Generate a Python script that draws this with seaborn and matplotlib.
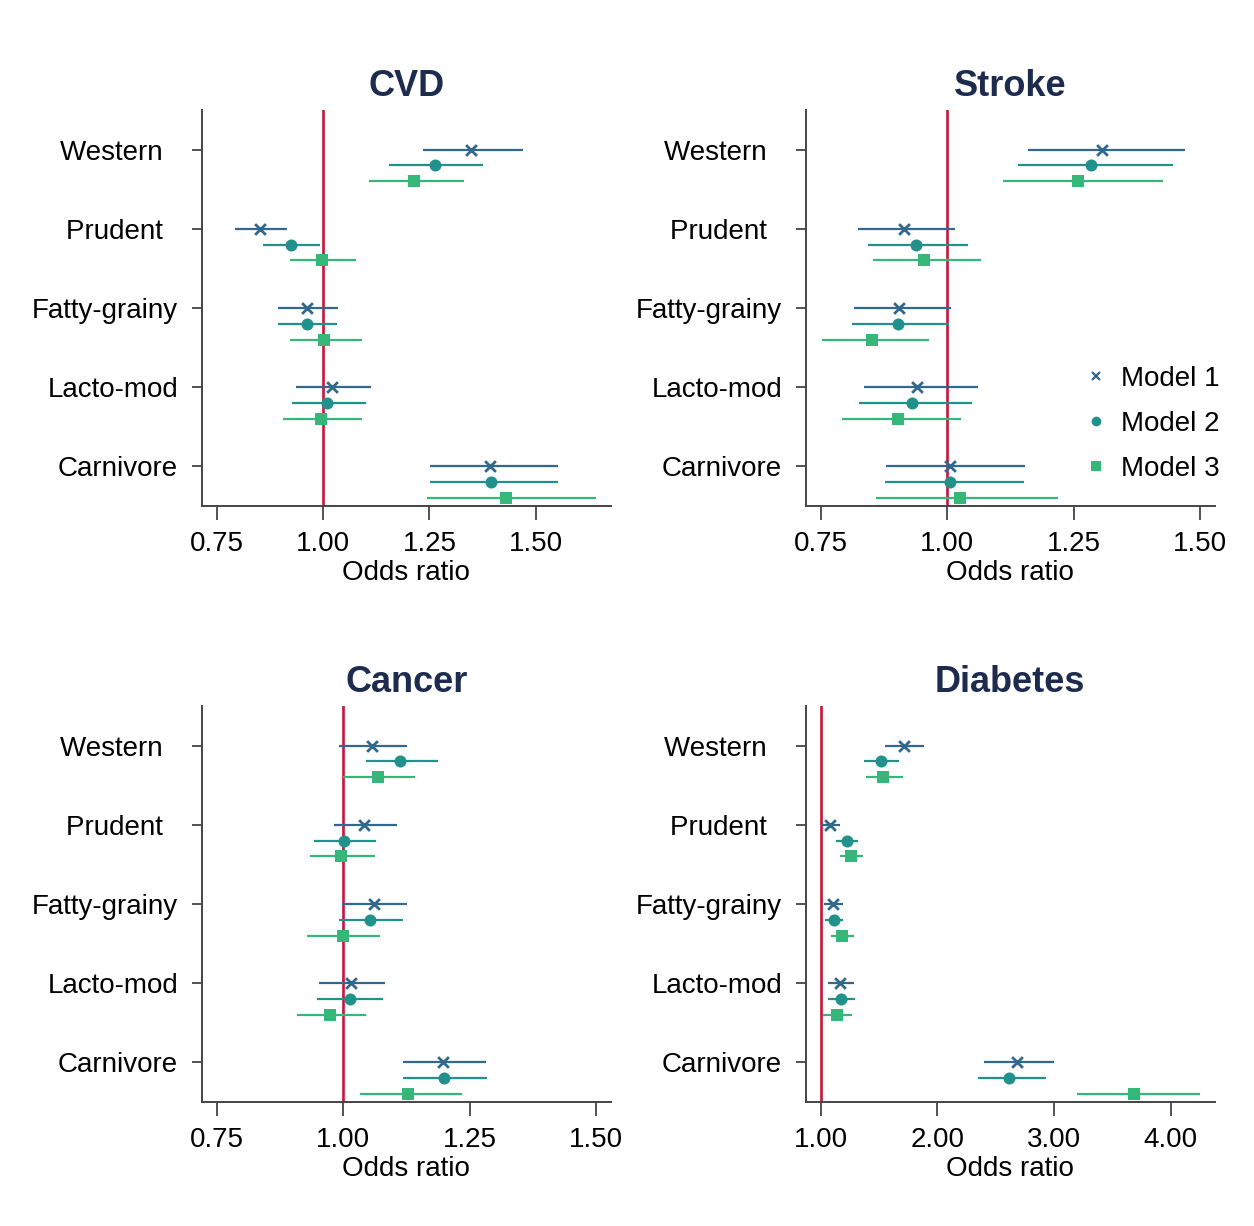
import numpy as np
import pandas as pd
import matplotlib
matplotlib.use("Agg")
import matplotlib.pyplot as plt
from matplotlib.lines import Line2D
from matplotlib.ticker import FormatStrFormatter
import seaborn as sns

# Dietary patterns (rows) and adjustment models (columns)
patterns = ["Western", "Prudent", "Fatty-grainy", "Lacto-mod", "Carnivore"]
pattern_labels = ["Western  ", "Prudent  ", "Fatty-grainy", "Lacto-mod", "Carnivore"]
models = ["Model 1", "Model 2", "Model 3"]

# Odds ratios with 95% CI, one list per pattern: [Model 1, Model 2, Model 3]
cvd_or = [[1.348, 1.262, 1.215], [0.852, 0.924, 0.998], [0.962, 0.962, 1.003],
          [1.020, 1.010, 0.995], [1.393, 1.394, 1.430]]
cvd_lo = [[1.236, 1.156, 1.109], [0.793, 0.859, 0.922], [0.895, 0.894, 0.923],
          [0.937, 0.926, 0.905], [1.251, 1.252, 1.245]]
cvd_hi = [[1.469, 1.376, 1.331], [0.915, 0.993, 1.077], [1.035, 1.034, 1.091],
          [1.113, 1.101, 1.092], [1.552, 1.553, 1.642]]

stroke_or = [[1.306, 1.284, 1.259], [0.914, 0.938, 0.954], [0.905, 0.903, 0.852],
             [0.940, 0.931, 0.902], [1.006, 1.005, 1.025]]
stroke_lo = [[1.160, 1.140, 1.110], [0.823, 0.844, 0.853], [0.815, 0.812, 0.753],
             [0.835, 0.826, 0.792], [0.878, 0.876, 0.860]]
stroke_hi = [[1.470, 1.447, 1.427], [1.015, 1.042, 1.067], [1.007, 1.003, 0.963],
             [1.060, 1.048, 1.028], [1.153, 1.151, 1.220]]

cancer_or = [[1.057, 1.113, 1.069], [1.042, 1.002, 0.996], [1.060, 1.053, 0.999],
             [1.015, 1.013, 0.974], [1.198, 1.200, 1.129]]
cancer_lo = [[0.992, 1.045, 1.000], [0.982, 0.943, 0.934], [0.997, 0.991, 0.929],
             [0.952, 0.949, 0.908], [1.118, 1.119, 1.034]]
cancer_hi = [[1.126, 1.187, 1.141], [1.106, 1.064, 1.062], [1.126, 1.118, 1.073],
             [1.082, 1.078, 1.045], [1.283, 1.285, 1.234]]

diabetes_or = [[1.711, 1.514, 1.537], [1.083, 1.226, 1.260], [1.106, 1.111, 1.186],
               [1.169, 1.171, 1.137], [2.680, 2.617, 3.683]]
diabetes_lo = [[1.551, 1.371, 1.386], [1.006, 1.134, 1.163], [1.031, 1.034, 1.089],
               [1.063, 1.066, 1.023], [2.400, 2.346, 3.194]]
diabetes_hi = [[1.883, 1.674, 1.703], [1.169, 1.317, 1.360], [1.189, 1.194, 1.289],
               [1.289, 1.291, 1.266], [2.997, 2.926, 4.246]]

outcomes = ["CVD", "Stroke", "Cancer", "Diabetes"]
estimates = {"CVD": (cvd_or, cvd_lo, cvd_hi),
             "Stroke": (stroke_or, stroke_lo, stroke_hi),
             "Cancer": (cancer_or, cancer_lo, cancer_hi),
             "Diabetes": (diabetes_or, diabetes_lo, diabetes_hi)}
x_ticks = {"CVD": [0.75, 1.00, 1.25, 1.50], "Stroke": [0.75, 1.00, 1.25, 1.50],
           "Cancer": [0.75, 1.00, 1.25, 1.50], "Diabetes": [1.0, 2.0, 3.0, 4.0]}
x_limits = {"CVD": (0.715, 1.676), "Stroke": (0.720, 1.529),
            "Cancer": (0.720, 1.529), "Diabetes": (0.871, 4.375)}

rows = []
for outcome in outcomes:
    o, lo, hi = estimates[outcome]
    for i, pat in enumerate(patterns):
        for j, m in enumerate(models):
            rows.append(dict(outcome=outcome, pattern=pat, model=m,
                             pos=i + 0.2 * j, OR=o[i][j], lo=lo[i][j], hi=hi[i][j]))
df = pd.DataFrame(rows)

sns.set_theme(style="ticks")
plt.rcParams["font.family"] = ["Liberation Sans", "DejaVu Sans"]
plt.rcParams["text.color"] = "black"

palette = {"Model 1": "#31688e", "Model 2": "#21918c", "Model 3": "#35b779"}
marker_map = {"Model 1": "x", "Model 2": "o", "Model 3": "s"}
marker_size = {"Model 1": 60, "Model 2": 75, "Model 3": 75}
ref_color = "#c8143c"
spine_color = "#444444"
title_color = "#1d2b4f"

fig = plt.figure(figsize=(12.54, 12.26), dpi=100)
W, H = 1254, 1226
boxes = {"CVD": (201.7, 110), "Stroke": (805.7, 110),
         "Cancer": (201.7, 706), "Diabetes": (805.7, 706)}
aw, ah = 409, 396

for outcome in outcomes:
    lx, ty = boxes[outcome]
    ax = fig.add_axes([lx / W, 1 - (ty + ah) / H, aw / W, ah / H])
    sub = df[df.outcome == outcome]
    ax.axvline(1.0, color=ref_color, lw=1.9, zorder=1)
    for m in models:
        d = sub[sub.model == m]
        ax.hlines(d["pos"], d["lo"], d["hi"], color=palette[m], lw=1.6, zorder=2)
        kws = dict(linewidth=2.0) if m == "Model 1" else dict(linewidth=0)
        sns.scatterplot(data=d, x="OR", y="pos", ax=ax, color=palette[m],
                        marker=marker_map[m], s=marker_size[m], zorder=3,
                        legend=False, **kws)
    ax.set_ylim(4.5, -0.5)
    ax.set_xlim(*x_limits[outcome])
    ax.set_yticks(range(len(patterns)))
    ax.set_yticklabels(pattern_labels)
    ax.set_xticks(x_ticks[outcome])
    ax.xaxis.set_major_formatter(FormatStrFormatter("%.2f"))
    ax.set_ylabel("")
    ax.set_xlabel("Odds ratio", fontsize=20, labelpad=2, color="black")
    ax.set_title(outcome, fontsize=26, fontweight="bold", color=title_color, pad=10)
    ax.tick_params(axis="y", length=7, width=1.3, pad=10, labelsize=20,
                   color=spine_color, labelcolor="black")
    ax.tick_params(axis="x", length=10, width=1.3, pad=8, labelsize=20,
                   color=spine_color, labelcolor="black")
    sns.despine(ax=ax)
    for s in ("left", "bottom"):
        ax.spines[s].set_color(spine_color)
        ax.spines[s].set_linewidth(1.4)

    if outcome == "Stroke":
        handles = [Line2D([], [], ls="none", marker="x", color=palette["Model 1"],
                          markersize=6, markeredgewidth=1.6),
                   Line2D([], [], ls="none", marker="o", color=palette["Model 2"],
                          markersize=7, markeredgewidth=0),
                   Line2D([], [], ls="none", marker="s", color=palette["Model 3"],
                          markersize=7, markeredgewidth=0)]
        ax.legend(handles, models, loc="center left", bbox_to_anchor=(0.655, 0.207),
                  frameon=False, fontsize=20, handlelength=0.8, handletextpad=0.5,
                  labelspacing=0.68, borderaxespad=0, labelcolor="black")

fig.savefig("out.png", dpi=100, facecolor="white")
